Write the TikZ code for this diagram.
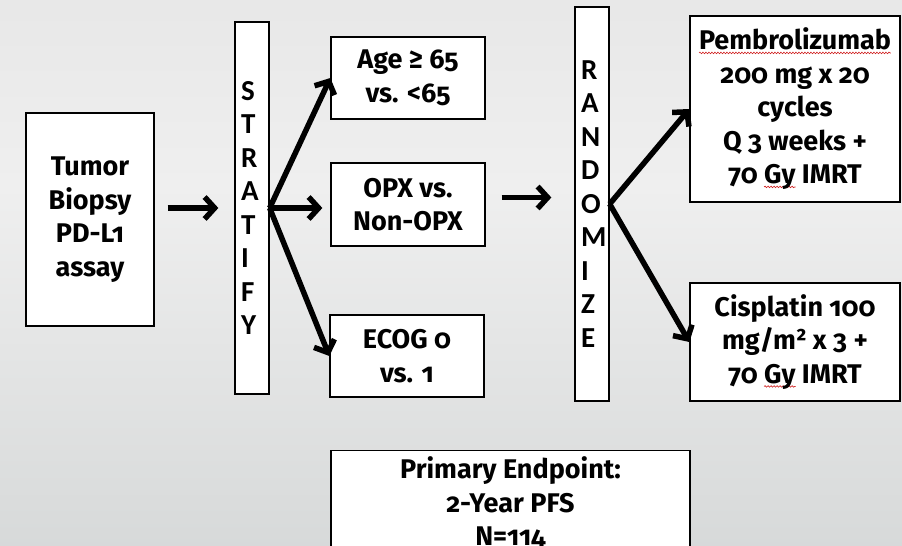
\documentclass[tikz,border=0pt]{standalone}
\usepackage{fontspec}
\setmainfont{Fira Sans}[Numbers=OldStyle]
\newfontfamily\barfont{Carlito}
\usetikzlibrary{arrows.meta,decorations.pathmorphing}

\definecolor{bgTop}{HTML}{DDDDDD}
\definecolor{bgMid}{HTML}{EFEFEF}
\definecolor{bgLow}{HTML}{DADCDC}
\definecolor{bgBot}{HTML}{C4C8C9}
\definecolor{spellred}{HTML}{D02020}

% soft slide background, light band across the middle
\pgfdeclareverticalshading{slidebg}{100bp}{%
  color(0bp)=(bgBot); color(29bp)=(bgLow); color(58bp)=(bgMid); color(100bp)=(bgTop)}

% red squiggle under a word (spell-check mark)
\newbox\spellbox
\newcommand\spellwave[1]{%
  \setbox\spellbox=\hbox{#1}\edef\spellw{\the\wd\spellbox}%
  \rlap{\tikz[overlay]\draw[spellred, line width=0.6pt, decorate,
      decoration={snake,amplitude=0.8pt,segment length=3pt}]
      (0pt,-3pt) -- (\spellw,-3pt);}%
  \box\spellbox}

\begin{document}
\begin{tikzpicture}[x=1pt,y=-1pt,
  box/.style={draw=black, line width=1.3pt, fill=white, inner sep=0pt,
    align=center, font=\fontsize{27}{33.5}\selectfont\bfseries},
  bar/.style={draw=black, line width=1.3pt, fill=white, text width=22pt,
    inner xsep=6pt, inner ysep=0pt, align=left,
    font=\fontsize{29}{33.5}\selectfont\barfont\bfseries},
  arr/.style={line width=5.5pt, -{Straight Barb[length=10pt,width=22pt,line width=5.5pt]}}
]
\useasboundingbox (0,0) rectangle (902,546);
\clip (0,0) rectangle (902,546);
\shade[shading=slidebg] (0,0) rectangle (902,546);

% boxes
\node[box, minimum width=128pt, minimum height=213pt] (tumor) at (90,219.5)
  {Tumor\\Biopsy\\PD-L1\\assay};
\node[bar, minimum height=372pt] (strat) at (252,208)
  {S\\T\\R\\A\\T\\I\\F\\Y};
\node[box, minimum width=154pt, minimum height=82pt] (age) at (408,78)
  {Age ≥ 65\\vs. <65};
\node[box, minimum width=154pt, minimum height=83pt] (opx) at (408,204.5)
  {OPX vs.\\Non-OPX};
\node[box, minimum width=154pt, minimum height=82pt] (ecog) at (407,356)
  {ECOG 0\\vs. 1};
\node[bar, minimum height=394pt] (rand) at (592,204)
  {R\\A\\N\\D\\O\\M\\I\\Z\\E};
\node[box, minimum width=210pt, minimum height=186pt] (pembro) at (795,109)
  {\spellwave{Pembrolizumab}\\200 mg x 20\\cycles\\Q 3 weeks +\\70 \spellwave{Gy} IMRT};
\node[box, minimum width=210pt, minimum height=118pt] (cis) at (795,342)
  {Cisplatin 100\\mg/m² x 3 +\\70 \spellwave{Gy} IMRT};
\node[box, minimum width=359pt, inner ysep=6pt, anchor=north] (endpt) at (510.5,450)
  {Primary Endpoint:\\2-Year PFS\\N=114};

% connectors
\draw[arr, shorten <=13pt, shorten >=16pt] (tumor.east |- strat.west) -- (strat.west);
\draw[arr] (strat.east) -- (age.west);
\draw[arr, shorten >=8pt] (strat.east) -- (opx.west |- strat.east);
\draw[arr] (strat.east) -- (ecog.west);
\draw[arr, shorten <=16pt, shorten >=23pt] ([yshift=7pt]opx.east) -- ([yshift=7pt]opx.east -| rand.west);
\draw[arr] (rand.east) -- (pembro.west);
\draw[arr] (rand.east) -- (cis.west);
\end{tikzpicture}
\end{document}
